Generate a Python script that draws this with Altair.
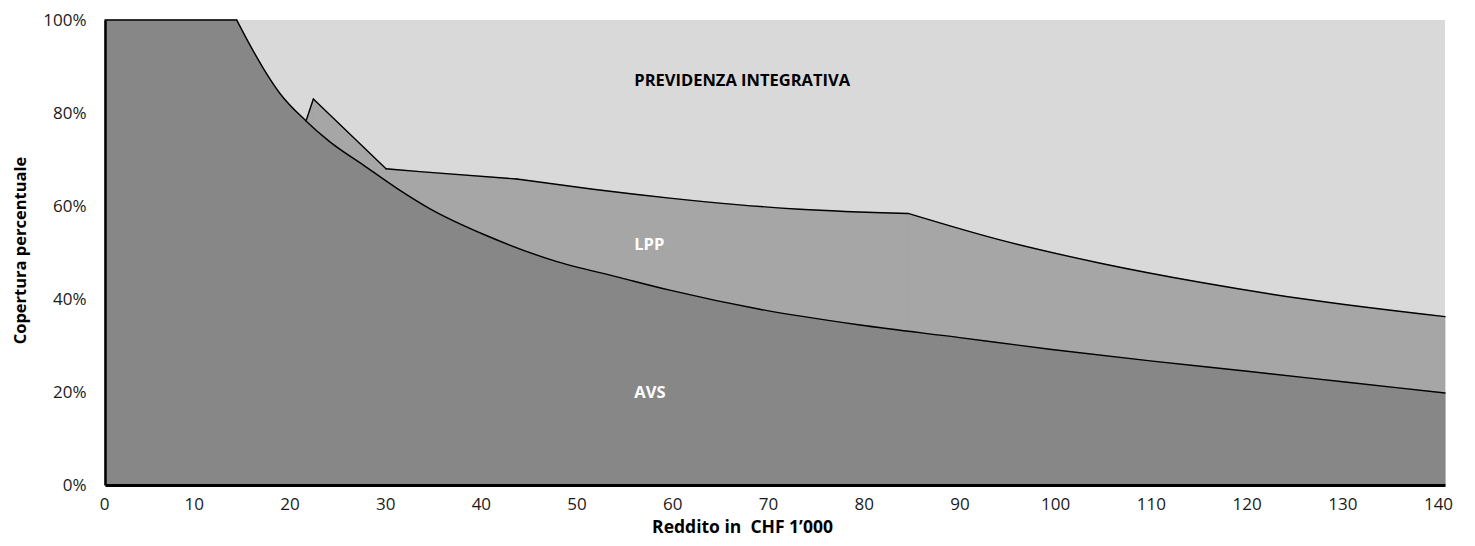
import altair as alt
import pandas as pd

# --- data (income in CHF 1'000, coverage in %) ---
avs_x = [0, 13.76, 15.15, 16.54, 18.28, 21.0, 23.5, 27.0, 30.5, 33.96, 39.9, 46.8,
         53.8, 59.0, 68.4, 78.9, 89.3, 98.7, 109.2, 119.6, 129.8, 140]
avs_y = [100, 100, 94.6, 89.6, 84.2, 78.3, 73.8, 68.8, 63.8, 59.4, 53.6, 48.3,
         44.6, 41.9, 37.8, 34.4, 31.7, 29.2, 26.7, 24.4, 22.1, 19.8]
avs_corners = [13.76]

lpp_x = [21.0, 21.77, 29.36, 32.9, 43.0, 51.0, 59.0, 66.0, 72.6, 83.9, 93.5, 104.0,
         114.4, 124.9, 140]
lpp_y = [78.3, 83.0, 68.0, 67.4, 65.8, 63.6, 61.7, 60.3, 59.3, 58.4, 52.7, 47.7,
         43.6, 40.1, 36.2]
lpp_corners = [21.77, 29.36, 43.0, 83.9]

area_labels = ["PREVIDENZA INTEGRATIVA", "LPP", "AVS"]
label_x = [55.3, 55.3, 55.3]
label_y = [86.9, 51.6, 19.8]
label_colors = ["#000000", "#ffffff", "#ffffff"]

x_ticks = list(range(0, 141, 10))
y_ticks = [0, 20, 40, 60, 80, 100]


def segments(xs, ys, corners):
    """Split a series at its corner points so each piece is smoothed on its own."""
    out, cur = [], []
    for x, y in zip(xs, ys):
        cur.append({"x": x, "y": y})
        if x in corners:
            out.append(pd.DataFrame(cur))
            cur = [{"x": x, "y": y}]
    out.append(pd.DataFrame(cur))
    return out


avs_parts = segments(avs_x, avs_y, avs_corners)
lpp_parts = segments(lpp_x, lpp_y, lpp_corners)
lab_df = pd.DataFrame({"label": area_labels, "x": label_x, "y": label_y, "c": label_colors})

FONT = "Open Sans"

x_enc = alt.X(
    "x:Q",
    scale=alt.Scale(domain=[0, 140], nice=False, zero=False),
    axis=alt.Axis(
        values=x_ticks, ticks=False, grid=False, labelFontSize=17, labelFont=FONT,
        labelColor="#1a1a1a", labelPadding=11,
        labelOffset={"condition": {"test": "datum.value === 0", "value": -1}, "value": -7},
        domainColor="#000000", domainWidth=3, zindex=1,
        title="Reddito in\u00a0 CHF 1’000", titleFont=FONT, titleFontSize=17.5,
        titleFontWeight="bold", titleColor="#000000", titleX=637, titleY=42,
        titleBaseline="middle", titleAlign="center", labelFlush=False,
    ),
)
y_enc = alt.Y(
    "y:Q",
    scale=alt.Scale(domain=[0, 100], nice=False),
    axis=alt.Axis(
        values=y_ticks, ticks=False, grid=False, labelFontSize=17, labelFont=FONT,
        labelColor="#1a1a1a", labelPadding=19, labelExpr="datum.value + '%'",
        domainColor="#000000", domainWidth=2.5, zindex=1,
        title="Copertura percentuale", titleFont=FONT, titleFontSize=16.5,
        titleFontWeight="bold", titleColor="#000000", titleAngle=-90,
        titleX=-77, titleY=230, titleBaseline="bottom", titleAlign="center",
        labelFlush=False,
    ),
)

layers = []
first = True
for parts, fill in ((lpp_parts, "#a6a6a6"), (avs_parts, "#878787")):
    for df in parts:
        enc = dict(x=x_enc, y=y_enc) if first else dict(x="x:Q", y="y:Q")
        first = False
        layers.append(
            alt.Chart(df).mark_area(
                color=fill, opacity=1, interpolate="monotone",
                stroke=fill, strokeWidth=0.8,
            ).encode(**enc)
        )
for parts in (lpp_parts, avs_parts):
    for df in parts:
        layers.append(
            alt.Chart(df).mark_line(
                color="#000000", strokeWidth=1.4, interpolate="monotone", strokeCap="round"
            ).encode(x="x:Q", y="y:Q")
        )

texts = alt.Chart(lab_df).mark_text(
    align="left", baseline="middle", font=FONT, fontSize=16.5, fontWeight="bold"
).encode(x="x:Q", y="y:Q", text="label:N", color=alt.Color("c:N", scale=None))
layers.append(texts)

chart = (
    alt.layer(*layers)
    .properties(
        width=1340, height=465, autosize="none",
        padding={"left": 97, "top": 12, "right": 22, "bottom": 53},
        background="#ffffff",
    )
    .configure_view(fill="#d9d9d9", stroke=None)
)

chart.save("out.html", embed_options={"renderer": "svg", "actions": False})
